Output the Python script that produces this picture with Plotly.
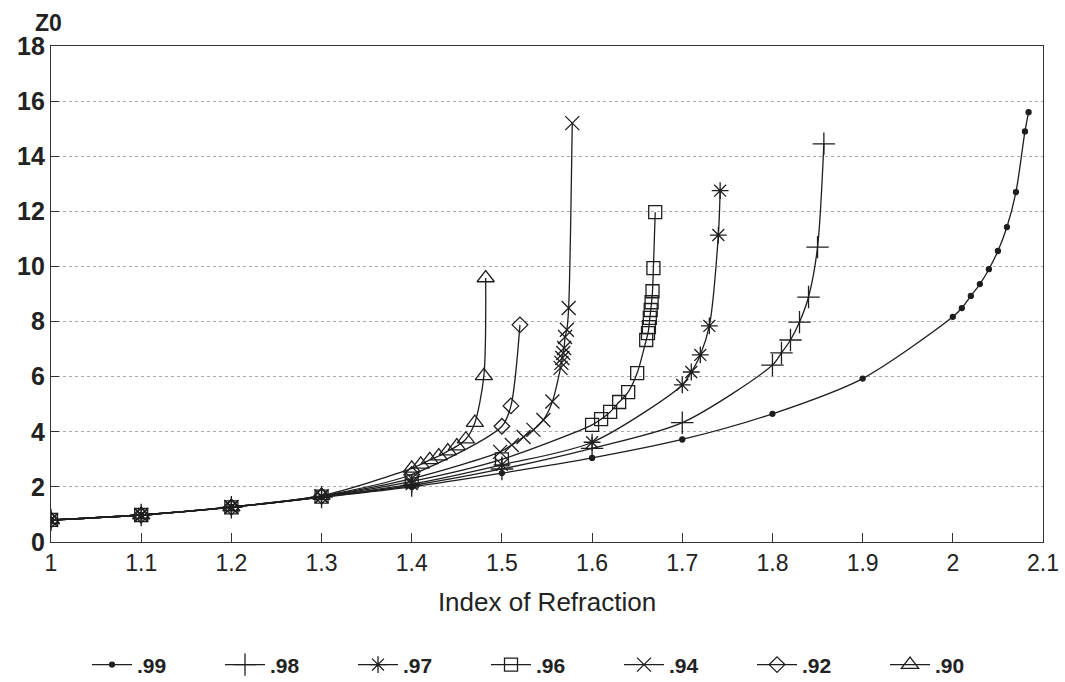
import plotly.graph_objects as go

# ---- data ----
x99 = [1.0, 1.1, 1.2, 1.3, 1.4, 1.5, 1.6, 1.7, 1.8, 1.9, 2.0, 2.01, 2.02, 2.03, 2.04, 2.05, 2.06, 2.07, 2.08, 2.084]
y99 = [0.80, 0.98, 1.27, 1.62, 2.0, 2.5, 3.05, 3.72, 4.65, 5.93, 8.17, 8.49, 8.93, 9.36, 9.9, 10.56, 11.43, 12.7, 14.9, 15.6]

x98 = [1.0, 1.1, 1.2, 1.3, 1.4, 1.5, 1.6, 1.7, 1.8, 1.81, 1.82, 1.83, 1.84, 1.85, 1.857]
y98 = [0.80, 0.98, 1.26, 1.63, 2.05, 2.65, 3.4, 4.33, 6.42, 6.86, 7.33, 7.98, 8.89, 10.7, 14.45]

x97 = [1.0, 1.1, 1.2, 1.3, 1.4, 1.5, 1.6, 1.7, 1.71, 1.72, 1.73, 1.74, 1.742]
y97 = [0.80, 0.98, 1.26, 1.64, 2.1, 2.8, 3.62, 5.7, 6.17, 6.79, 7.84, 11.14, 12.75]

x96 = [1.0, 1.1, 1.2, 1.3, 1.4, 1.5, 1.6, 1.61, 1.62, 1.63, 1.64, 1.65, 1.66, 1.662, 1.663, 1.664, 1.665, 1.666, 1.667, 1.668, 1.67]
y96 = [0.80, 0.98, 1.26, 1.65, 2.2, 3.0, 4.25, 4.46, 4.72, 5.08, 5.44, 6.13, 7.33, 7.58, 7.8, 8.13, 8.42, 8.7, 9.1, 9.94, 11.97]

x94 = [1.0, 1.1, 1.2, 1.3, 1.4, 1.498, 1.511, 1.524, 1.535, 1.546, 1.556, 1.565, 1.566, 1.567, 1.568, 1.569, 1.57, 1.572, 1.574, 1.578]
y94 = [0.80, 0.98, 1.27, 1.66, 2.3, 3.27, 3.52, 3.81, 4.07, 4.43, 5.1, 6.32, 6.5, 6.68, 6.86, 7.04, 7.44, 7.7, 8.49, 15.2]

x92 = [1.0, 1.1, 1.2, 1.3, 1.4, 1.5, 1.51, 1.52]
y92 = [0.80, 0.98, 1.27, 1.67, 2.45, 4.2, 4.94, 7.88]

x90 = [1.0, 1.1, 1.2, 1.3, 1.4, 1.41, 1.42, 1.43, 1.44, 1.45, 1.46, 1.47, 1.48, 1.482]
y90 = [0.80, 0.98, 1.27, 1.68, 2.67, 2.82, 2.98, 3.12, 3.3, 3.48, 3.73, 4.33, 6.03, 9.58]

names = [".99", ".98", ".97", ".96", ".94", ".92", ".90"]
xs = [x99, x98, x97, x96, x94, x92, x90]
ys = [y99, y98, y97, y96, y94, y92, y90]
symbols = ["circle", "cross-thin", "asterisk", "square-open", "x-thin", "diamond-open", "triangle-up-open"]
sizes = [5, 16, 14, 13, 14, 12, 15]

ink = "#1e1e1e"
fig = go.Figure()
for n, x, y, s, sz in zip(names, xs, ys, symbols, sizes):
    fig.add_trace(go.Scatter(
        x=x, y=y, name=n, mode="lines+markers",
        line=dict(color=ink, width=1.3, shape="spline", smoothing=0.8),
        marker=dict(symbol=s, size=sz, color=ink, line=dict(color=ink, width=1.3)),
    ))

fig.update_layout(
    width=1065, height=682,
    margin=dict(l=51, r=22, t=46, b=140, autoexpand=False),
    paper_bgcolor="white", plot_bgcolor="white",
    font=dict(family="Liberation Sans", color="#222"),
    showlegend=True,
    legend=dict(orientation="h", xref="container", yref="container",
                x=0.0817, xanchor="left", y=0.025, yanchor="middle",
                entrywidth=78, entrywidthmode="pixels", itemwidth=40,
                font=dict(size=21, family="Liberation Sans", color="#222", weight="bold")),
    annotations=[dict(text="Z0", xref="paper", yref="paper", x=0, y=1, xanchor="center",
                      yanchor="bottom", xshift=-3, yshift=8, showarrow=False,
                      font=dict(size=23, family="Liberation Sans", color="#222", weight="bold"))],
)
fig.update_xaxes(range=[1, 2.1], tickvals=[1, 1.1, 1.2, 1.3, 1.4, 1.5, 1.6, 1.7, 1.8, 1.9, 2, 2.1],
                 ticktext=["1", "1.1", "1.2", "1.3", "1.4", "1.5", "1.6", "1.7", "1.8", "1.9", "2", "2.1"],
                 ticks="inside", ticklen=9, tickcolor="#333", showgrid=False, zeroline=False,
                 showline=True, linecolor="#333", linewidth=1.2, mirror=True,
                 tickfont=dict(size=23, family="Liberation Sans", color="#222"),
                 title=dict(text="Index of Refraction", standoff=18,
                            font=dict(size=26, family="Liberation Sans", color="#222")))
fig.update_yaxes(range=[0, 18], dtick=2, ticks="inside", ticklen=8, tickcolor="#333",
                 showgrid=True, gridcolor="#aaaaaa", griddash="dot", gridwidth=1,
                 zeroline=False, showline=True, linecolor="#333", linewidth=1.2, mirror=True,
                 tickfont=dict(size=25, family="Liberation Sans", color="#222", weight="bold"))

fig.write_html("out.html")
